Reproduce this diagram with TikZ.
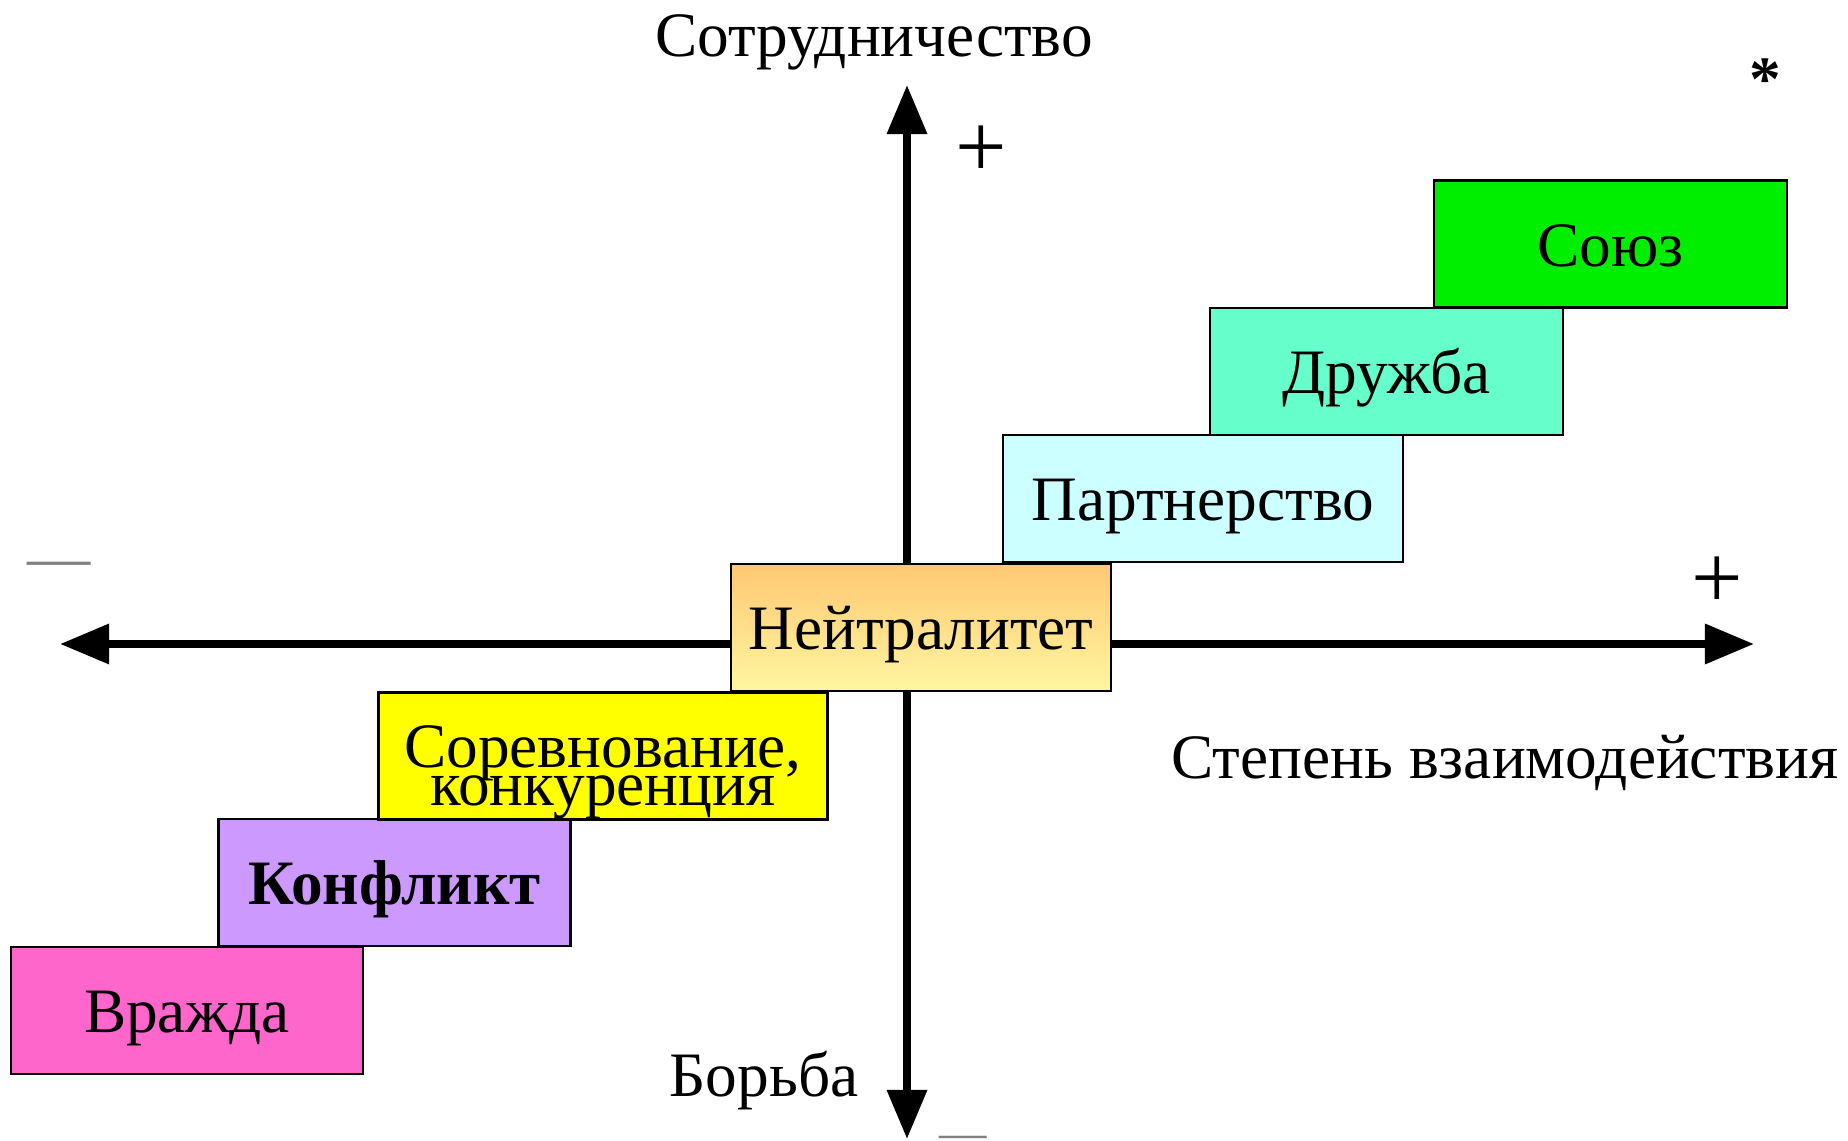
\documentclass[tikz,border=0pt]{standalone}
\usepackage{fontspec}
\setmainfont{Liberation Serif}
\usepackage{tikz}
\usetikzlibrary{arrows.meta}
\usetikzlibrary{positioning}

\definecolor{soyuzcol}{RGB}{0,238,0}
\definecolor{druzhbacol}{RGB}{102,255,204}
\definecolor{partnercol}{RGB}{204,255,255}
\definecolor{neutraltop}{RGB}{255,200,115}
\definecolor{neutralbot}{RGB}{255,246,160}
\definecolor{sorevcol}{RGB}{255,255,0}
\definecolor{konfliktcol}{RGB}{204,153,255}
\definecolor{vrazhdacol}{RGB}{255,102,204}

\begin{document}
\begin{tikzpicture}[every node/.style={font=\fontsize{18pt}{20pt}\selectfont},
    stufe/.style={draw, semithick, minimum width=3.52cm, minimum height=1.27cm, inner sep=0pt,
      text height=12.8pt, text depth=0pt},
    achse/.style={line width=2.3pt, {Triangle[length=14pt,width=11pt]}-{Triangle[length=14pt,width=11pt]}}]
  \useasboundingbox (0,0) rectangle (18.48,11.40);

  % Achsen
  \coordinate (xleft) at (0.60,4.96);
  \coordinate (xright) at (17.54,4.96);
  \coordinate (ybottom) at (9.07,0.01);
  \coordinate (ytop) at (9.07,10.55);
  \draw[achse] (xleft) -- (xright);
  \draw[achse] (ybottom) -- (ytop);

  % Stufen
  \node[stufe, fill=vrazhdacol] (vrazhda) at (1.87,1.295) {Вражда};
  \node[stufe, fill=konfliktcol, font=\fontsize{18pt}{20pt}\selectfont\bfseries] (konflikt) at (3.945,2.575) {Конфликт};
  \node[stufe, fill=sorevcol, minimum width=4.49cm, align=center, text height=28.4pt] (sorev) at (6.03,3.84) {Соревнование,\\[-9pt]конкуренция};
  \node[stufe, top color=neutraltop, bottom color=neutralbot, minimum width=3.80cm] (neutral) at (9.21,5.125) {Нейтралитет};
  \node[stufe, fill=partnercol, minimum width=4.00cm] (partner) at (12.03,6.415) {Партнерство};
  \node[stufe, fill=druzhbacol, minimum width=3.53cm] (druzhba) at (13.865,7.685) {Дружба};
  \node[stufe, fill=soyuzcol, minimum width=3.53cm] (soyuz) at (16.105,8.96) {Союз};

  % Beschriftung
  \node[anchor=base] (coop) at (8.74,10.83) {Сотрудничество};
  \node[anchor=base] (fight) at (7.64,0.44) {Борьба};
  \node[anchor=base] (degree) at (15.05,3.62) {Степень взаимодействия};

  % Plus und Minus
  \node[font=\fontsize{26pt}{28pt}\selectfont] (plustop) at (9.81,9.88) {+};
  \node[font=\fontsize{26pt}{28pt}\selectfont] (plusright) at (17.17,5.57) {+};
  \node[text=gray] (minusleft) at (0.59,5.70) {—};
  \node[text=gray, font=\fontsize{13.5pt}{15pt}\selectfont] (minusbottom) at (9.63,-0.02) {—};
  \node[font=\fontsize{18pt}{20pt}\selectfont\bfseries] (star) at (17.65,10.60) {*};
\end{tikzpicture}
\end{document}
